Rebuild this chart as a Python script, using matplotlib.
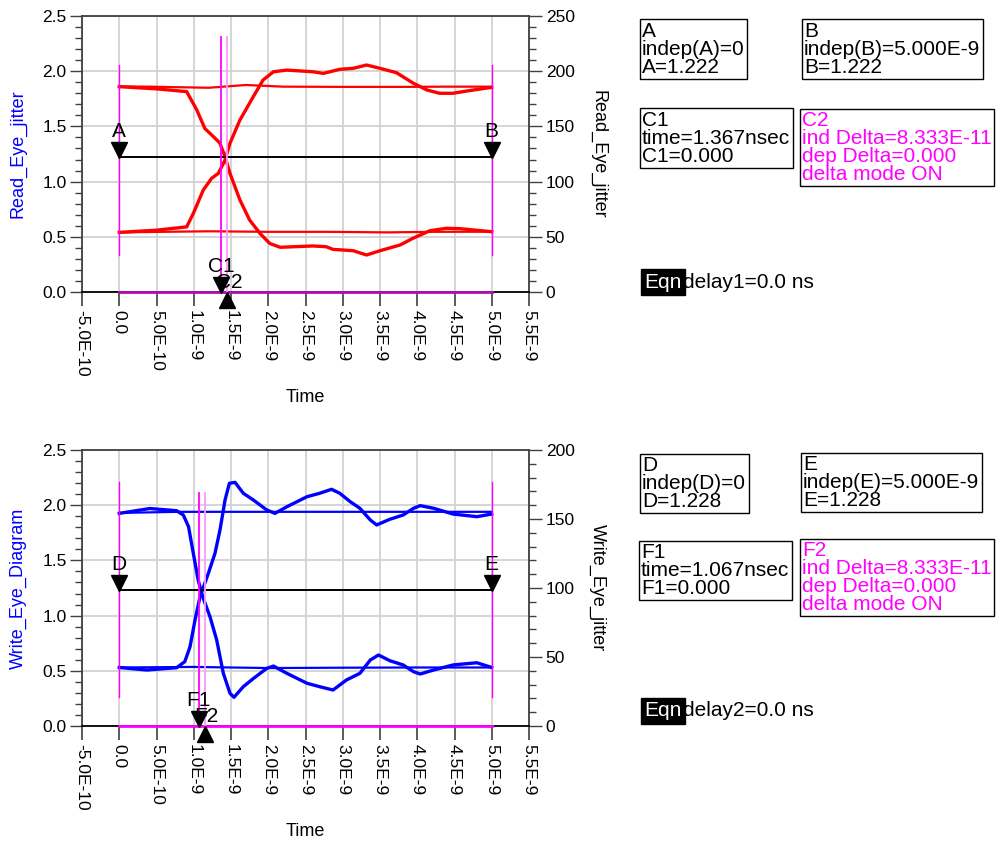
import matplotlib
matplotlib.use("Agg")
import matplotlib.pyplot as plt
from matplotlib import transforms
from matplotlib.ticker import MultipleLocator, FixedLocator, FixedFormatter

plt.rcParams['font.family'] = ['Liberation Sans', 'DejaVu Sans']

# ---------------- data (time in ns, level in V) ----------------
x_ticks_ns = [-0.5, 0.0, 0.5, 1.0, 1.5, 2.0, 2.5, 3.0, 3.5, 4.0, 4.5, 5.0, 5.5]
x_tick_labels = ["-5.0E-10", "0.0", "5.0E-10", "1.0E-9", "1.5E-9", "2.0E-9", "2.5E-9",
                 "3.0E-9", "3.5E-9", "4.0E-9", "4.5E-9", "5.0E-9", "5.5E-9"]

# Read eye
read_high_t = [0, 0.4, 0.8, 1.2, 1.7, 2.2, 3.0, 3.8, 4.4, 5.0]
read_high_v = [1.862, 1.86, 1.855, 1.85, 1.875, 1.86, 1.858, 1.858, 1.86, 1.86]
read_low_t = [0, 0.6, 1.2, 2.0, 2.8, 3.6, 4.2, 5.0]
read_low_v = [0.54, 0.545, 0.55, 0.545, 0.545, 0.54, 0.545, 0.546]
read_fall_t = [0, 0.5, 0.905, 1.04, 1.15, 1.26, 1.35, 1.42, 1.486, 1.62, 1.75, 1.89, 2.02,
               2.16, 2.6, 2.78, 2.87, 3.14, 3.32, 3.5, 3.77, 3.94, 4.17, 4.39, 4.57, 5.0]
read_fall_v = [1.86, 1.84, 1.815, 1.65, 1.48, 1.41, 1.35, 1.225, 1.075, 0.833, 0.652, 0.53, 0.44,
               0.405, 0.417, 0.41, 0.386, 0.374, 0.335, 0.374, 0.426, 0.486, 0.555, 0.577, 0.574, 0.546]
read_rise_t = [0, 0.5, 0.905, 0.995, 1.128, 1.24, 1.33, 1.42, 1.486, 1.62, 1.8, 1.93, 2.07, 2.25,
               2.6, 2.74, 2.96, 3.14, 3.32, 3.5, 3.72, 3.95, 4.13, 4.3, 4.48, 4.66, 5.0]
read_rise_v = [0.54, 0.56, 0.59, 0.713, 0.924, 1.03, 1.075, 1.196, 1.347, 1.558, 1.77, 1.92, 1.995, 2.01,
               1.995, 1.98, 2.017, 2.026, 2.056, 2.026, 1.987, 1.89, 1.83, 1.8, 1.8, 1.82, 1.854]

# Write eye
write_high_t = [0, 0.8, 1.5, 2.5, 3.5, 4.5, 5.0]
write_high_v = [1.93, 1.94, 1.94, 1.94, 1.94, 1.94, 1.94]
write_low_t = [0, 1.0, 2.0, 3.0, 4.0, 5.0]
write_low_v = [0.53, 0.535, 0.525, 0.528, 0.53, 0.53]
write_fall_t = [0, 0.41, 0.77, 0.86, 0.93, 0.994, 1.06, 1.12, 1.218, 1.308, 1.397, 1.487, 1.54,
                1.665, 1.8, 1.98, 2.07, 2.25, 2.52, 2.69, 2.87, 3.05, 3.23, 3.37, 3.48, 3.63,
                3.81, 3.95, 4.04, 4.22, 4.48, 4.8, 5.0]
write_fall_v = [1.926, 1.97, 1.95, 1.911, 1.806, 1.564, 1.32, 1.171, 0.99, 0.779, 0.477, 0.296, 0.26,
                0.356, 0.43, 0.522, 0.543, 0.477, 0.387, 0.356, 0.326, 0.417, 0.477, 0.598, 0.643, 0.592,
                0.553, 0.492, 0.471, 0.507, 0.553, 0.573, 0.53]
write_rise_t = [0, 0.37, 0.77, 0.88, 0.95, 1.017, 1.084, 1.196, 1.285, 1.352, 1.42, 1.478, 1.554,
                1.665, 1.8, 1.98, 2.09, 2.25, 2.52, 2.69, 2.85, 2.96, 3.1, 3.23, 3.37, 3.455, 3.63,
                3.81, 3.95, 4.04, 4.22, 4.48, 4.8, 5.0]
write_rise_v = [0.53, 0.507, 0.528, 0.583, 0.718, 0.96, 1.171, 1.383, 1.564, 1.775, 2.047, 2.198, 2.207,
                2.108, 2.047, 1.957, 1.926, 1.986, 2.077, 2.108, 2.144, 2.108, 2.032, 1.972, 1.866, 1.821, 1.872,
                1.911, 1.972, 1.996, 1.972, 1.92, 1.896, 1.92]

# Markers
read_marker_level = 1.222
write_marker_level = 1.228
marker_start_ns = 0.0
marker_stop_ns = 5.0
c1_time_ns = 1.367
f1_time_ns = 1.067
delta_ns = 0.08333

# ---------------- figure ----------------
W, H = 997, 842
fig = plt.figure(figsize=(W / 100, H / 100), dpi=100)


def fx(px):
    return px / W


def fy(py):
    return 1 - py / H


NS = 1e-9
SPINE = '#404040'


def build_panel(top_px, bottom_px, traces, flats, color, level, names, t1_ns, t2_ns,
                pair_names, right_max, left_label, right_label, zero_color, cursor_top):
    ax = fig.add_axes([fx(82), fy(bottom_px), (529 - 82) / W, (bottom_px - top_px) / H])
    ax.set_xlim(-0.5 * NS, 5.5 * NS)
    ax.set_ylim(0, 2.5)
    ax.xaxis.set_major_locator(FixedLocator([v * NS for v in x_ticks_ns]))
    ax.xaxis.set_major_formatter(FixedFormatter(x_tick_labels))
    ax.yaxis.set_major_locator(MultipleLocator(0.5))
    ax.yaxis.set_minor_locator(MultipleLocator(0.1))
    ax.yaxis.set_major_formatter(matplotlib.ticker.FormatStrFormatter('%.1f'))
    ax.grid(True, which='major', color='#d2d2d2', lw=1.3)
    ax.set_axisbelow(True)
    ax.tick_params(axis='x', direction='out', length=10, width=1.2, color=SPINE,
                   labelsize=12.5, labelrotation=270, pad=3)
    ax.tick_params(axis='y', which='major', direction='out', length=9, width=1.0,
                   color=SPINE, labelsize=12.5, pad=2)
    ax.tick_params(axis='y', which='minor', direction='out', length=5, width=1.0, color=SPINE)
    for s in ('left', 'right', 'top'):
        ax.spines[s].set_color(SPINE)
        ax.spines[s].set_linewidth(1.3)
    ax.spines['bottom'].set_color('black')
    ax.spines['bottom'].set_linewidth(1.3)

    ax2 = ax.twinx()
    ax2.set_ylim(0, right_max)
    ax2.yaxis.set_major_locator(MultipleLocator(50))
    ax2.yaxis.set_minor_locator(MultipleLocator(10))
    ax2.tick_params(axis='y', which='major', direction='out', length=9, width=1.0,
                    color=SPINE, labelsize=12.5, pad=3)
    ax2.tick_params(axis='y', which='minor', direction='out', length=5, width=1.0, color=SPINE)
    for s in ax2.spines.values():
        s.set_visible(False)

    # eye traces
    for t, v in flats:
        ax.plot([x * NS for x in t], v, color=color, lw=1.6, zorder=3)
    for t, v in traces:
        ax.plot([x * NS for x in t], v, color=color, lw=2.4, zorder=3)

    # data extent lines at the marker positions
    all_v = [y for _, v in traces + flats for y in v]
    vmin, vmax = min(all_v), max(all_v)
    for xm in (marker_start_ns, marker_stop_ns):
        ax.plot([xm * NS, xm * NS], [vmin, vmax], color='#ff00ff', lw=1.0, zorder=4)
    ax.plot([marker_start_ns * NS, marker_stop_ns * NS], [0, 0], color=zero_color, lw=2.0,
            zorder=5, clip_on=False)

    # horizontal marker pair
    ax.plot([marker_start_ns * NS, marker_stop_ns * NS], [level, level], color='black', lw=1.4, zorder=6)
    up = transforms.offset_copy(ax.transData, fig=fig, y=7.5, units='dots')
    down = transforms.offset_copy(ax.transData, fig=fig, y=-7.5, units='dots')
    for xm, nm in zip((marker_start_ns, marker_stop_ns), names):
        ax.plot([xm * NS], [level], marker='v', ms=11, color='black', transform=up, zorder=7,
                clip_on=False)
        ax.annotate(nm, (xm * NS, level), xytext=(0, 26), textcoords='offset pixels',
                    ha='center', va='center', fontsize=15, zorder=7)

    # time cursors
    ax.plot([t1_ns * NS, t1_ns * NS], [0, cursor_top], color='#ff00ff', lw=1.3, zorder=6)
    ax.plot([t2_ns * NS, t2_ns * NS], [0, cursor_top], color='#ff99ff', lw=1.3, zorder=6)
    ax.annotate(pair_names[0], (t1_ns * NS, 0), xytext=(0, 26), textcoords='offset pixels',
                ha='center', va='center', fontsize=15, zorder=8, annotation_clip=False)
    ax.annotate(pair_names[1], (t2_ns * NS, 0), xytext=(-11, 9), textcoords='offset pixels',
                ha='left', va='center', fontsize=15, zorder=8, annotation_clip=False)
    ax.plot([t1_ns * NS], [0], marker='v', ms=11, color='black', transform=up, zorder=9,
            clip_on=False)
    ax.plot([t2_ns * NS], [0], marker='^', ms=11, color='black', transform=down, zorder=9,
            clip_on=False)

    mid = (top_px + bottom_px) / 2
    fig.text(fx(18), fy(mid), left_label, color='blue', rotation=90, ha='center', va='center',
             fontsize=13)
    fig.text(fx(598), fy(mid), right_label, color='black', rotation=270, ha='center', va='center',
             fontsize=13)
    fig.text(fx(305), fy(bottom_px + 105), "Time", ha='center', va='center', fontsize=13)
    return ax


build_panel(16, 292,
            [(read_fall_t, read_fall_v), (read_rise_t, read_rise_v)],
            [(read_high_t, read_high_v), (read_low_t, read_low_v)],
            'red', read_marker_level, ('A', 'B'), c1_time_ns, c1_time_ns + delta_ns,
            ('C1', 'C2'), 250, 'Read_Eye_jitter', 'Read_Eye_jitter', '#b010b0', 2.31)

build_panel(450, 726,
            [(write_fall_t, write_fall_v), (write_rise_t, write_rise_v)],
            [(write_high_t, write_high_v), (write_low_t, write_low_v)],
            'blue', write_marker_level, ('D', 'E'), f1_time_ns, f1_time_ns + delta_ns,
            ('F1', 'F2'), 200, 'Write_Eye_Diagram', 'Write_Eye_jitter', '#ff00ff', 2.108)


# ---------------- marker readouts ----------------
def readout(px, py, lines, color='black'):
    fig.text(fx(px), fy(py), "\n".join(lines), ha='left', va='top', fontsize=15,
             color=color, linespacing=0.93,
             bbox=dict(boxstyle='square,pad=0.12', fc='white', ec='black', lw=1.0))


readout(642, 22, ["A", "indep(A)=0", "A=%.3f" % read_marker_level])
readout(804, 22, ["B", "indep(B)=5.000E-9", "B=%.3f" % read_marker_level])
readout(642, 111, ["C1", "time=%.3fnsec" % c1_time_ns, "C1=0.000"])
readout(802, 111, ["C2", "ind Delta=8.333E-11", "dep Delta=0.000", "delta mode ON"], '#ff00ff')

readout(642, 456, ["D", "indep(D)=0", "D=%.3f" % write_marker_level])
readout(803, 455, ["E", "indep(E)=5.000E-9", "E=%.3f" % write_marker_level])
readout(641, 543, ["F1", "time=%.3fnsec" % f1_time_ns, "F1=0.000"])
readout(802, 541, ["F2", "ind Delta=8.333E-11", "dep Delta=0.000", "delta mode ON"], '#ff00ff')


def equation(py, text):
    fig.text(fx(644), fy(py), "Eqn", color='white', ha='left', va='center', fontsize=15,
             bbox=dict(boxstyle='square,pad=0.15', fc='black', ec='black'))
    fig.text(fx(683), fy(py), text, color='black', ha='left', va='center', fontsize=15)


equation(282, "delay1=0.0 ns")
equation(711, "delay2=0.0 ns")

fig.savefig("out.png", dpi=100)
